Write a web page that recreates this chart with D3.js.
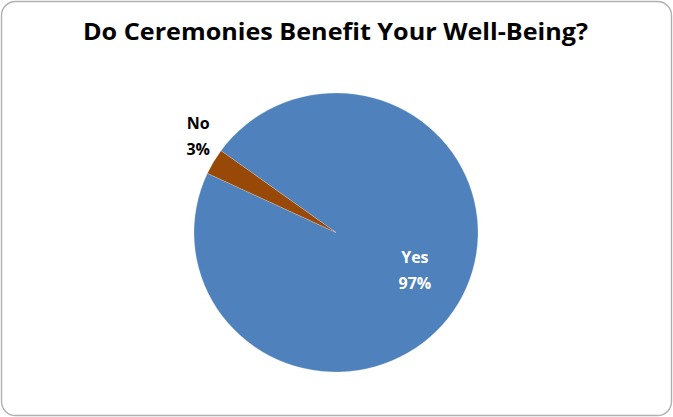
<!DOCTYPE html>
<html>
<head>
<meta charset="utf-8">
<script src="https://cdn.jsdelivr.net/npm/d3@7"></script>
<style>
  html, body { margin: 0; padding: 0; background: #ffffff; }
  svg { display: block; }
  text { font-family: "Open Sans", Lato, "DejaVu Sans", sans-serif; font-weight: bold; }
</style>
</head>
<body>
<svg id="chart" width="673" height="417"></svg>
<script>
// Survey answers and their shares (percent)
const categories = ["Yes", "No"];
const values = [97, 3];
const sliceColors = ["#4f81bd", "#984807"];
const labelColors = ["#ffffff", "#000000"];
const chartTitle = "Do Ceremonies Benefit Your Well-Being?";

const W = 673, H = 417;
const svg = d3.select("#chart");

// Rounded chart-area frame
svg.append("rect")
  .attr("x", 1.5).attr("y", 1.5)
  .attr("width", W - 3).attr("height", H - 3)
  .attr("rx", 14).attr("ry", 14)
  .attr("fill", "#ffffff")
  .attr("stroke", "#b0b0b0")
  .attr("stroke-width", 1.4);

// Title
svg.append("text")
  .attr("x", 335.5).attr("y", 40)
  .attr("text-anchor", "middle")
  .attr("font-size", 23)
  .attr("textLength", 505)
  .attr("lengthAdjust", "spacingAndGlyphs")
  .attr("fill", "#000000")
  .text(chartTitle);

// Pie geometry
const cx = 336, cy = 232.5, r = 142, ry = 139.5;
const deg = Math.PI / 180;
const startAngle = 305.9 * deg;

const pie = d3.pie()
  .sort(null)
  .value(d => d.value)
  .startAngle(startAngle)
  .endAngle(startAngle + 2 * Math.PI);

const data = categories.map((c, i) => ({ name: c, value: values[i], i }));
const arcs = pie(data);

const arc = d3.arc().innerRadius(0).outerRadius(r);

const g = svg.append("g")
  .attr("transform", `translate(${cx},${cy}) scale(1,${ry / r})`);

g.selectAll("path")
  .data(arcs)
  .join("path")
  .attr("d", arc)
  .attr("fill", d => sliceColors[d.data.i])
  .attr("stroke", "#ffffff")
  .attr("stroke-opacity", 0.35)
  .attr("stroke-width", 0.6);

// Data labels: inside for the large slice, outside for the small one
const labelRadius = [0.62, 1.2];
const nudge = [[3, -6], [9, -12]];
const fmt = v => Math.round(v) + "%";

arcs.forEach(d => {
  const i = d.data.i;
  const la = d3.arc().innerRadius(r * labelRadius[i]).outerRadius(r * labelRadius[i]);
  const [px, py] = la.centroid(d);
  const x = cx + px + nudge[i][0];
  const y = cy + py * (ry / r) + nudge[i][1];
  const t = svg.append("text")
    .attr("text-anchor", "middle")
    .attr("font-size", 16)
    .attr("fill", labelColors[i]);
  t.append("tspan").attr("x", x).attr("y", y - 7).text(d.data.name);
  t.append("tspan").attr("x", x).attr("y", y + 19).text(fmt(d.data.value));
});
</script>
</body>
</html>
